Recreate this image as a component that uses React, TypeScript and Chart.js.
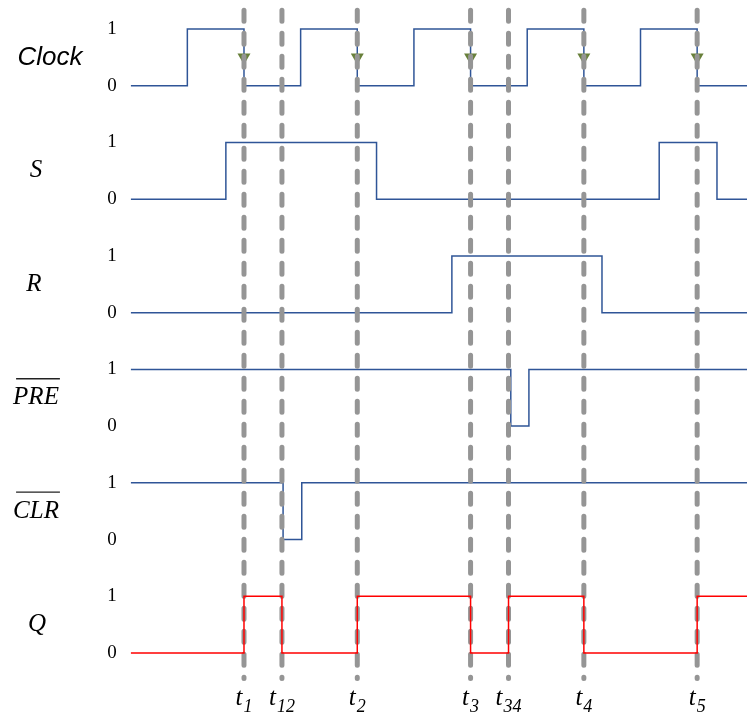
import React, { useEffect, useRef } from "react";
import { Chart, registerables } from "chart.js";

Chart.register(...registerables);

// ---- data ----
const T_END = 10.88;
const signalNames = ["Clock", "S", "R", "PRE", "CLR", "Q"];
const clockTimes = [0, 1, 2, 3, 4, 5, 6, 7, 8, 9, 10, T_END];
const clockLevels = [0, 1, 0, 1, 0, 1, 0, 1, 0, 1, 0, 0];
const sTimes = [0, 1.68, 4.34, 9.33, 10.35, T_END];
const sLevels = [0, 1, 0, 1, 0, 0];
const rTimes = [0, 5.67, 8.32, T_END];
const rLevels = [0, 1, 0, 0];
const preTimes = [0, 6.71, 7.03, T_END];
const preLevels = [1, 0, 1, 1];
const clrTimes = [0, 2.69, 3.02, T_END];
const clrLevels = [1, 0, 1, 1];
const qTimes = [0, 2, 2.67, 4, 6, 6.67, 8, 10, T_END];
const qLevels = [0, 1, 0, 1, 0, 1, 0, 1, 1];
const markerTimes = [2, 2.67, 4, 6, 6.67, 8, 10];
const markerLabels = ["1", "12", "2", "3", "34", "4", "5"];
const clockArrowTimes = [2, 4, 6, 8, 10];
const levelTicks = [0, 1, 2, 3, 4, 5, 6, 7, 8, 9, 10, 11];

const BLUE = "#2F5597";
const RED = "#FF0000";
const GRAY = "#959595";
const GREEN = "#68803A";

// row index 0 (Clock) is at top; row base offset = 10 - 2*i
const rowBase = (i: number) => 10 - 2 * i;

function series(times: number[], levels: number[], row: number) {
  return times.map((t, k) => ({ x: t, y: levels[k] + rowBase(row) }));
}

const labelX = [50, 36, 34, 36, 36, 37];

const textPlugin = {
  id: "texts",
  afterDatasetsDraw(chart: any) {
    const ctx = chart.ctx;
    const ys = chart.scales.y;
    const xs = chart.scales.x;
    ctx.save();
    ctx.fillStyle = "#000";
    ctx.textAlign = "center";
    ctx.textBaseline = "middle";
    signalNames.forEach((name, i) => {
      const yc = ys.getPixelForValue(rowBase(i) + 0.5);
      const x = labelX[i];
      if (name === "Clock") {
        ctx.font = "italic 26px 'Liberation Sans', Arial, sans-serif";
      } else {
        ctx.font = "italic 25px 'Liberation Serif', 'Times New Roman', serif";
      }
      ctx.fillText(name, x, yc);
      if (name === "PRE" || name === "CLR") {
        const w = ctx.measureText(name).width;
        ctx.strokeStyle = "#222";
        ctx.lineWidth = 1.3;
        ctx.beginPath();
        ctx.moveTo(x - w / 2 + 3, yc - 19);
        ctx.lineTo(x + w / 2 + 1, yc - 19);
        ctx.stroke();
      }
    });
    // t labels
    const tFont = "italic 25px 'Liberation Serif', 'Times New Roman', serif";
    const subFont = "italic 18px 'Liberation Serif', 'Times New Roman', serif";
    ctx.textAlign = "left";
    ctx.textBaseline = "alphabetic";
    markerTimes.forEach((t, k) => {
      const xc = xs.getPixelForValue(t);
      ctx.font = tFont;
      const wt = ctx.measureText("t").width;
      ctx.font = subFont;
      const ws = ctx.measureText(markerLabels[k]).width;
      const x0 = xc - (wt + ws + 1) / 2;
      ctx.font = tFont;
      ctx.fillText("t", x0, 705);
      ctx.font = subFont;
      ctx.fillText(markerLabels[k], x0 + wt + 1, 712);
    });
    ctx.restore();
  },
};

export default function App() {
  const ref = useRef<HTMLCanvasElement | null>(null);
  useEffect(() => {
    if (!ref.current) return;
    const signalSets = [
      [clockTimes, clockLevels],
      [sTimes, sLevels],
      [rTimes, rLevels],
      [preTimes, preLevels],
      [clrTimes, clrLevels],
    ].map(([t, l], i) => ({
      label: signalNames[i],
      data: series(t as number[], l as number[], i),
      borderColor: BLUE,
      borderWidth: 1.5,
      stepped: "before" as const,
      pointRadius: 0,
      fill: false,
      order: 3,
    }));
    const qSet = {
      label: "Q",
      data: series(qTimes, qLevels, 5),
      borderColor: RED,
      borderWidth: 1.5,
      stepped: "before" as const,
      pointRadius: 0,
      fill: false,
      order: 0,
    };
    const dashSets = markerTimes.map((t, k) => ({
      label: "t" + markerLabels[k],
      data: [
        { x: t, y: 11.33 },
        { x: t, y: -0.45 },
      ],
      borderColor: GRAY,
      borderWidth: 5,
      borderDash: [11, 12],
      borderCapStyle: "round" as const,
      pointRadius: 0,
      fill: false,
      order: 1,
    }));
    const arrowSet = {
      type: "scatter" as const,
      label: "arrows",
      data: clockArrowTimes.map((t) => ({ x: t, y: rowBase(0) + 0.5 })),
      pointStyle: "triangle",
      rotation: 180,
      pointRadius: 7.5,
      pointBackgroundColor: GREEN,
      pointBorderColor: GREEN,
      pointBorderWidth: 0,
      showLine: false,
      order: 2,
    };
    const chart = new Chart(ref.current, {
      type: "line",
      data: { datasets: [...signalSets, qSet, ...dashSets, arrowSet] as any },
      options: {
        responsive: false,
        animation: false,
        devicePixelRatio: 1,
        layout: { autoPadding: false, padding: { top: 6.3, bottom: 34.6, left: 0, right: 0 } },
        plugins: { legend: { display: false }, tooltip: { enabled: false } },
        scales: {
          x: { type: "linear", min: 0, max: T_END, display: false },
          y: {
            type: "linear",
            min: -0.5,
            max: 11.4,
            grid: { display: false, drawTicks: false },
            border: { display: false },
            ticks: {
              padding: 14,
              color: "#000",
              font: { family: "'Liberation Serif', 'Times New Roman', serif", size: 19 },
              callback: (v: any) => (Number(v) % 2 === 1 ? "1" : "0"),
            },
            afterBuildTicks: (s: any) => {
              s.ticks = levelTicks.map((v) => ({ value: v }));
            },
            afterFit: (s: any) => {
              s.width = 130.7;
              s.paddingTop = 0;
              s.paddingBottom = 0;
            },
          },
        },
      } as any,
      plugins: [textPlugin],
    });
    return () => chart.destroy();
  }, []);
  return (
    <div style={{ position: "absolute", left: 0, top: 0, width: 747, height: 716 }}>
      <canvas ref={ref} width={747} height={716} style={{ display: "block" }} />
    </div>
  );
}
